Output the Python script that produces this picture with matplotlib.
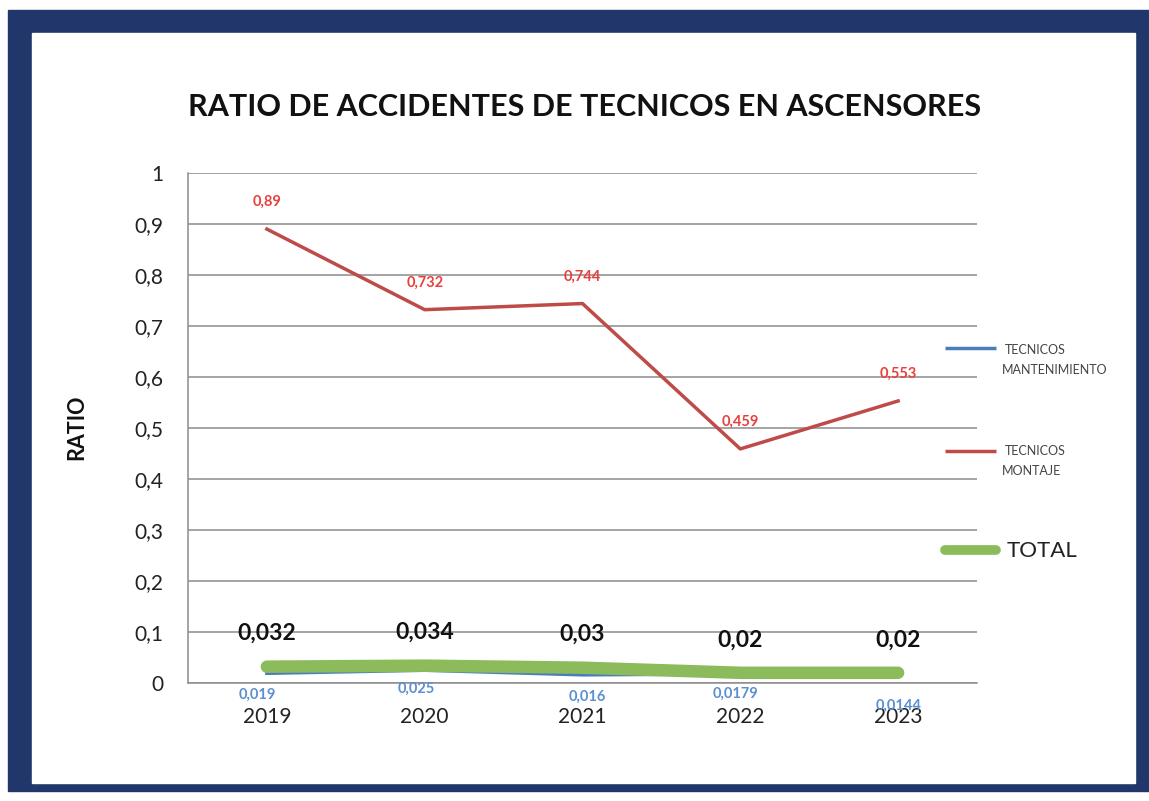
import matplotlib
matplotlib.use("Agg")
import matplotlib.pyplot as plt
from matplotlib.patches import Rectangle
from matplotlib.lines import Line2D

plt.rcParams['font.family'] = ['Lato', 'DejaVu Sans']

# data
years = ['2019', '2020', '2021', '2022', '2023']
mantenimiento = [0.019, 0.025, 0.016, 0.0179, 0.0144]
montaje = [0.89, 0.732, 0.744, 0.459, 0.553]
total = [0.032, 0.034, 0.03, 0.02, 0.02]
mant_labels = ['0,019', '0,025', '0,016', '0,0179', '0,0144']
mont_labels = ['0,89', '0,732', '0,744', '0,459', '0,553']
total_labels = ['0,032', '0,034', '0,03', '0,02', '0,02']

BLUE = '#4a7ebb'
RED = '#be4b48'
GREEN = '#8cbb5c'
NAVY = '#21366a'

W, H = 1149, 801
fig = plt.figure(figsize=(W / 100, H / 100), dpi=100)

# navy frame with white panel
fig.patches.append(Rectangle((8 / W, 1 - 791 / H), (W - 8) / W, 781 / H,
                             transform=fig.transFigure, color=NAVY, zorder=-10))
fig.patches.append(Rectangle((32 / W, 1 - 783 / H), (1135 - 32) / W, (783 - 33) / H,
                             transform=fig.transFigure, color='white', zorder=-9))

ax = fig.add_axes([188 / W, 118 / H, (977 - 188) / W, 510 / H])
ax.set_facecolor('none')
x = range(len(years))

ax.plot(x, mantenimiento, color=BLUE, lw=2.5, zorder=3)
ax.plot(x, montaje, color=RED, lw=2.5, zorder=3)
ax.plot(x, total, color=GREEN, lw=9, solid_capstyle='round', zorder=4)

ax.set_xlim(-0.5, 4.5)
ax.set_ylim(0, 1)
ax.set_yticks([i / 10 for i in range(11)])
ax.set_yticklabels(['0'] + ['0,%d' % i for i in range(1, 10)] + ['1'])
ax.set_xticks(list(x))
ax.set_xticklabels(years)
ax.tick_params(length=0, labelsize=15, colors='#222222')
ax.tick_params(axis='y', pad=18)
ax.tick_params(axis='x', pad=17)
ax.grid(axis='y', color='#8c8c8c', lw=1.1)
ax.set_axisbelow(True)
for s in ['top', 'right']:
    ax.spines[s].set_visible(False)
for s in ['left', 'bottom']:
    ax.spines[s].set_color('#8c8c8c')
    ax.spines[s].set_linewidth(1.1)

# data labels
mant_off = [(-10, -14), (-8, -12), (5, -15), (-5, -13), (0, -23)]
for i, (v, t) in enumerate(zip(mantenimiento, mant_labels)):
    ax.annotate(t, (i, v), xytext=mant_off[i], textcoords='offset pixels',
                ha='center', va='top', color='#5b8fd0', fontsize=10.5, fontweight='bold')
for i, (v, t) in enumerate(zip(montaje, mont_labels)):
    ax.annotate(t, (i, v), xytext=(0, 27), textcoords='offset pixels',
                ha='center', va='center', color='#e8403c', fontsize=10.5, fontweight='bold')
for i, (v, t) in enumerate(zip(total, total_labels)):
    ax.annotate(t, (i, v), xytext=(0, 33), textcoords='offset pixels',
                ha='center', va='center', color='#111111', fontsize=16.5, fontweight='bold')

# title and y label
fig.text(585 / W, 1 - 107 / H, 'RATIO DE ACCIDENTES DE TECNICOS EN ASCENSORES',
         ha='center', va='center', fontsize=22, fontweight='bold', color='#111111')
fig.text(77 / W, 1 - 427 / H, 'RATIO', rotation=90, ha='center', va='center',
         fontsize=15.5, fontweight='bold', color='#111111')

# legend
def leg_line(y, color, lw, cap='butt'):
    fig.lines.append(Line2D([945 / W, 996 / W], [1 - y / H, 1 - y / H], transform=fig.transFigure,
                            color=color, lw=lw, solid_capstyle=cap))

leg_line(348, BLUE, 2.5)
fig.text(1005 / W, 1 - 350 / H, 'TECNICOS', fontsize=9, color='#444444', va='center')
fig.text(1002 / W, 1 - 370 / H, 'MANTENIMIENTO', fontsize=9, color='#444444', va='center')
leg_line(451, RED, 2.5)
fig.text(1005 / W, 1 - 451 / H, 'TECNICOS', fontsize=9, color='#444444', va='center')
fig.text(1002 / W, 1 - 471 / H, 'MONTAJE', fontsize=9, color='#444444', va='center')
leg_line(550, GREEN, 7, 'round')
fig.text(1007 / W, 1 - 551 / H, 'TOTAL', fontsize=16, color='#222222', va='center')

fig.savefig('out.png', dpi=100)
